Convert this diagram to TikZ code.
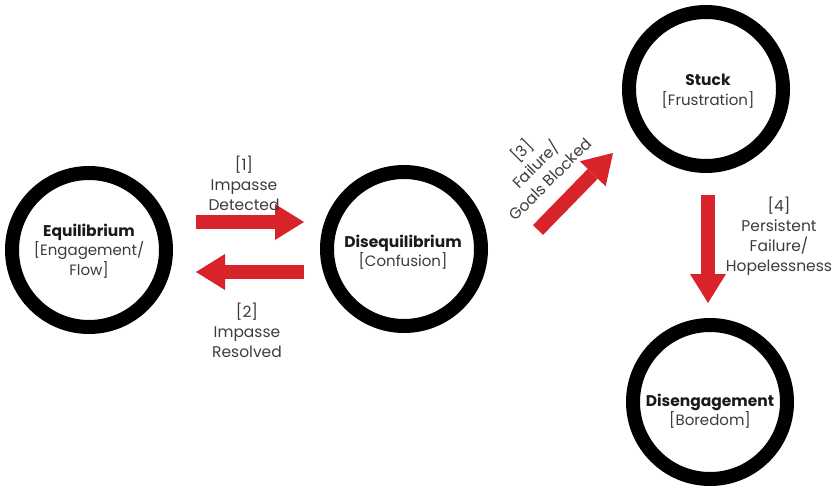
\documentclass[tikz,border=0pt]{standalone}
\usepackage{fontspec}
\setmainfont{Poppins}
\usetikzlibrary{arrows.meta}
\definecolor{arrowred}{HTML}{D8232A}
\definecolor{titleblack}{HTML}{1A1A1A}
\definecolor{labelgray}{HTML}{3C3C3C}
\newcommand{\statetitle}[1]{\textcolor{titleblack}{\fontsize{15.5}{19.5}\selectfont\bfseries #1}}
\begin{document}
\begin{tikzpicture}[x=1pt,y=-1pt,
  state/.style={circle, draw=black, line width=14pt, minimum size=154pt,
    inner sep=0pt, fill=white},
  statetext/.style={align=center, text=labelgray, inner sep=0pt,
    font=\fontsize{15}{19.5}\selectfont},
  cue/.style={align=center, text=labelgray, inner sep=1pt,
    font=\fontsize{15.5}{20}\selectfont},
  bigarrow/.style={draw=arrowred, line width=14pt,
    -{Triangle[width=36pt,length=29pt,line width=0pt]}},
]
\useasboundingbox (0,0) rectangle (834,489);

% the four states
\node[state] (eq) at (89,250) {};
\node[state] (dis) at (404,249) {};
\node[state] (stuck) at (706,89) {};
\node[state] (bored) at (710,402) {};

\node[statetext] (eqtext) at (89,251)
  {\statetitle{Equilibrium}\\{[}Engagement/\\Flow{]}};
\node[statetext] (distext) at (403,252)
  {\statetitle{Disequilibrium}\\{[}Confusion{]}};
\node[statetext] (stucktext) at (708,91)
  {\statetitle{Stuck}\\{[}Frustration{]}};
\node[statetext] (boredtext) at (710,411)
  {\statetitle{Disengagement}\\{[}Boredom{]}};

% arrow end points
\coordinate (a1s) at (196,222);
\coordinate (a1e) at (304,222);
\coordinate (a2s) at (304,272);
\coordinate (a2e) at (196,272);
\coordinate (a3s) at (538,230);
\coordinate (a3e) at (613,153);
\coordinate (a4s) at (708,195);
\coordinate (a4e) at (708,303);

% transitions
\draw[bigarrow] (a1s) -- (a1e);
\draw[bigarrow] (a2s) -- (a2e);
\draw[bigarrow] (a3s) -- (a3e);
\draw[bigarrow] (a4s) -- (a4e);

% transition labels
\node[cue] (l1) at (244,183) {{[}1{]}\\Impasse\\Detected};
\node[cue] (l2) at (247,330) {{[}2{]}\\Impasse\\Resolved};
\node[cue, rotate=45] (l3) at (535,164) {{[}3{]}\\Failure/\\Goals Blocked};
\node[cue] (l4) at (779,236) {{[}4{]}\\Persistent\\Failure/\\Hopelessness};
\end{tikzpicture}
\end{document}
